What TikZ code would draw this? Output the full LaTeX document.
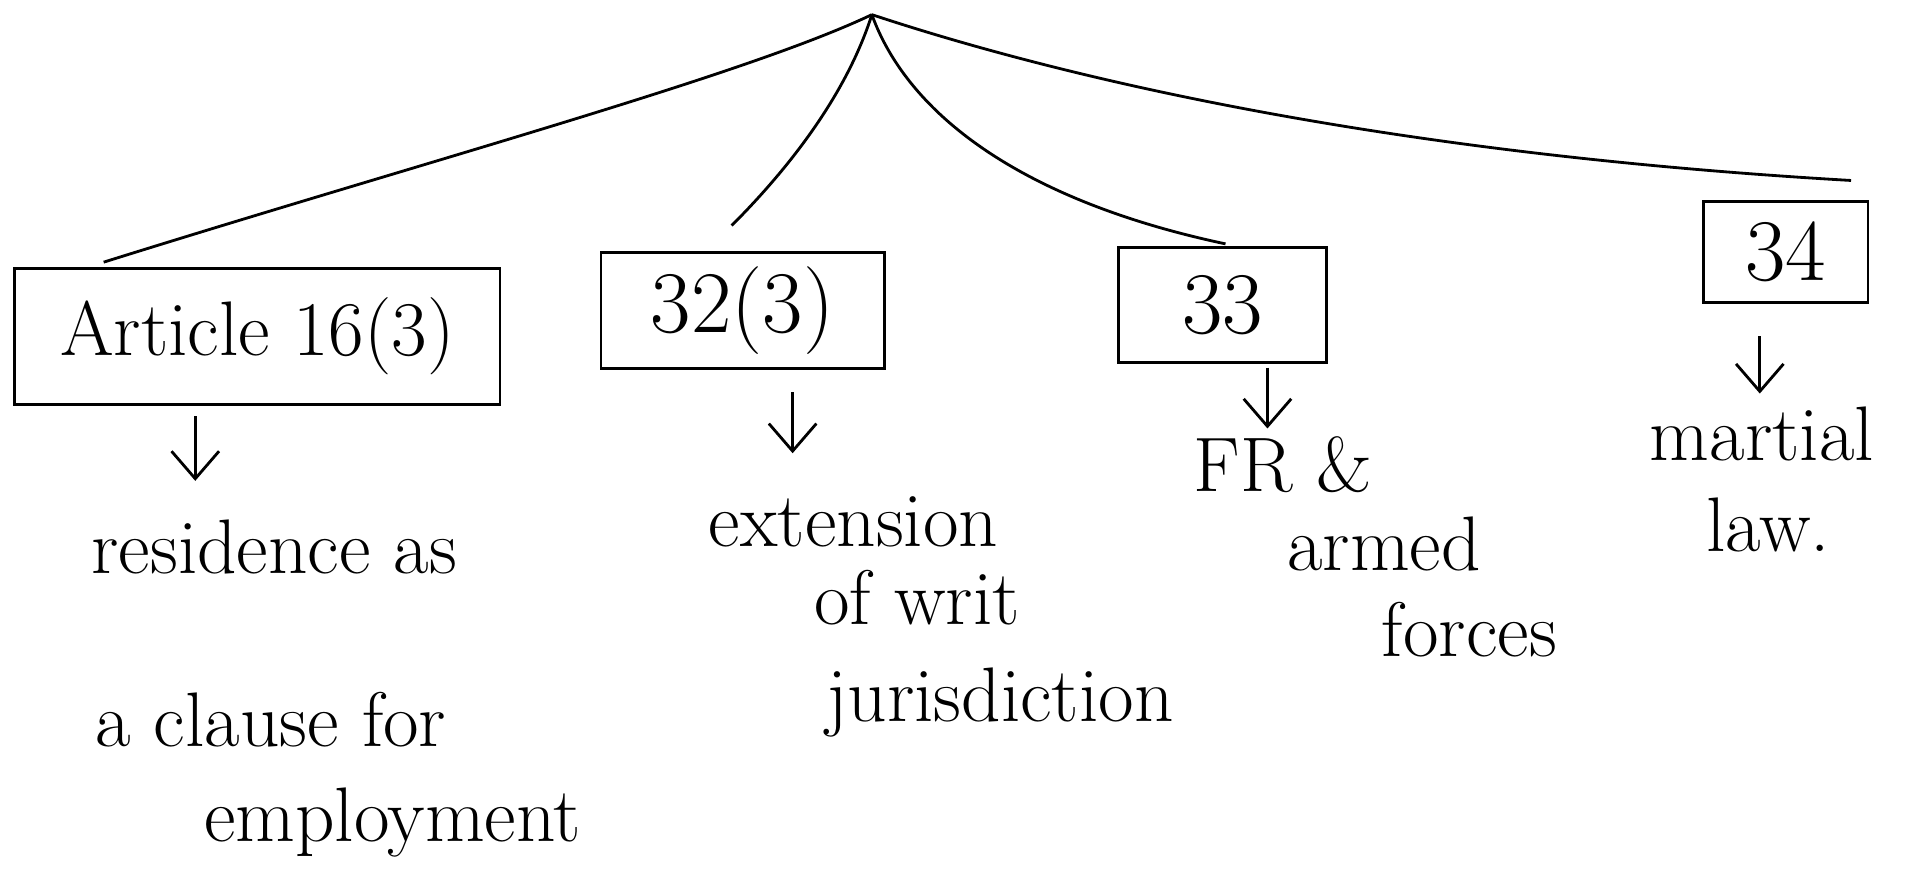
\documentclass[tikz,border=0pt]{standalone}
\usetikzlibrary{arrows.meta}
\begin{document}
\begin{tikzpicture}[x=0.02439cm,y=-0.02439cm,
  ink/.style={line width=1.6pt,black},
  box/.style={ink,draw,inner sep=0pt,font=\fontsize{50}{56}\selectfont},
  body/.style={anchor=base,inner sep=0pt,font=\fontsize{44}{50}\selectfont},
  arr/.style={ink,-{Straight Barb[length=0.55cm,width=0.95cm,line width=1.6pt]}}]
\useasboundingbox (0,0) rectangle (1568,721);
% apex and branch ends
\coordinate (apex) at (715,12);
\coordinate (e1) at (85,215);
\coordinate (e2) at (600,185);
\coordinate (e3) at (1005,200);
\coordinate (e4) at (1518,148);
% boxes
\node[box,minimum width=9.71cm,minimum height=2.73cm,font=\fontsize{44}{50}\selectfont] (b1) at (211,276) {Article 16(3)};
\node[box,minimum width=5.66cm,minimum height=2.32cm] (b2) at (609,254.5) {32(3)};
\node[box,minimum width=4.17cm,minimum height=2.29cm] (b3) at (1002.5,250) {33};
\node[box,minimum width=3.29cm,minimum height=2.02cm] (b4) at (1464.5,206.5) {34};
% branches
\draw[ink] (apex) .. controls (610,62) and (350,132) .. (e1);
\draw[ink] (apex) .. controls (695,75) and (650,135) .. (e2);
\draw[ink] (apex) .. controls (745,95) and (840,165) .. (e3);
\draw[ink] (apex) .. controls (860,60) and (1120,125) .. (e4);
% texts
\node[body] (t1a) at (225,470) {residence as};
\node[body] (t1b) at (222,612) {a clause for};
\node[body] (t1c) at (322,690) {employment};
\node[body] (t2a) at (700,448) {extension};
\node[body] (t2b) at (752,512) {of writ};
\node[body] (t2c) at (820,592) {jurisdiction};
\node[body] (t3a) at (1052,403) {FR \&};
\node[body] (t3b) at (1135,468) {armed};
\node[body] (t3c) at (1205,538) {forces};
\node[body] (t4a) at (1445,378) {martial};
\node[body] (t4b) at (1450,452) {law.};
% arrows
\draw[arr] ([xshift=-1.24cm,yshift=-0.2cm]b1.south) -- ++(0,53);
\draw[arr] ([xshift=1.0cm,yshift=-0.45cm]b2.south) -- ++(0,50);
\draw[arr] ([xshift=0.9cm,yshift=-0.08cm]b3.south) -- ++(0,50);
\draw[arr] ([xshift=-0.52cm,yshift=-0.65cm]b4.south) -- ++(0,47);
\end{tikzpicture}
\end{document}
